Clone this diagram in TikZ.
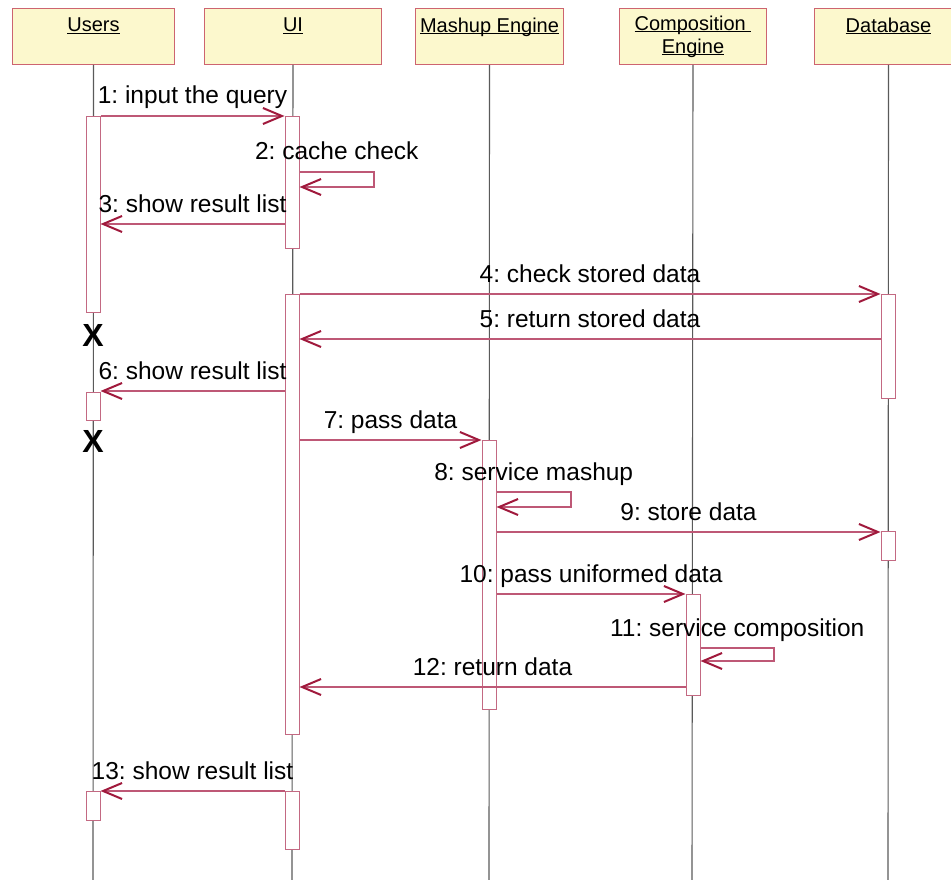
\documentclass[tikz,border=0pt]{standalone}
\usepackage{fontspec}
\setmainfont{Liberation Sans}
\usetikzlibrary{arrows.meta}
\frenchspacing

\definecolor{hdrfill}{RGB}{252,248,205}
\definecolor{hdrline}{RGB}{205,100,112}
\definecolor{barline}{RGB}{195,105,130}
\definecolor{msgline}{RGB}{190,88,118}
\definecolor{tipred}{RGB}{160,25,60}
\definecolor{lifegray}{RGB}{90,90,90}

% underlined participant name with a fixed rule position
\newcommand\ulname[1]{\setbox0\hbox{#1}\rlap{\rule[-2pt]{\wd0}{1pt}}\box0}

\tikzset{
  header/.style={draw=hdrline, fill=hdrfill, line width=1pt, anchor=north west,
    minimum height=56pt, inner sep=0pt, align=center,
    font=\fontsize{20}{23}\selectfont},
  lifeline/.style={draw=lifegray, line width=1.1pt},
  actbar/.style={draw=barline, fill=white, line width=1pt, anchor=north,
    minimum width=14pt, inner sep=0pt},
  msg/.style={draw=msgline, line width=1.2pt,
    -{Straight Barb[length=19pt,width=16pt,line width=2pt,color=tipred]}},
  msglabel/.style={anchor=base, yshift=12pt, inner sep=0pt,
    font=\fontsize{24.5}{28}\selectfont},
  destroy/.style={inner sep=0pt, font=\fontsize{32}{32}\selectfont\bfseries}
}

\begin{document}
\begin{tikzpicture}[x=1pt, y=-1pt]
\useasboundingbox (0,0) rectangle (951,880);
\clip (0,0) rectangle (951,880);

% participants
\node[header, minimum width=162pt] (hUsers) at (12,8) {\ulname{Users}\\ \mbox{}};
\node[header, minimum width=177pt] (hUI) at (204,8) {\ulname{UI}\\ \mbox{}};
\node[header, minimum width=148pt] (hMash) at (415,8) {\ulname{Mashup Engine}\\ \mbox{}};
\node[header, minimum width=147pt] (hComp) at (619,8) {\ulname{Composition\ }\\ \ulname{Engine}};
\node[header, minimum width=148pt] (hDB) at (814,8) {\ulname{Database}\\ \mbox{}};

% lifeline ends
\coordinate (eUsers) at (93,880);
\coordinate (eUI) at (292,880);
\coordinate (eMash) at (489,880);
\coordinate (eComp) at (692,880);
\coordinate (eDB) at (888,880);

\draw[lifeline] (hUsers.south) -- (eUsers);
\draw[lifeline] (hUI.south) -- (eUI);
\draw[lifeline] (hMash.south) -- (eMash);
\draw[lifeline] (hComp.south) -- (eComp);
\draw[lifeline] (hDB.south) -- (eDB);

% activation bars
\node[actbar, minimum height=196pt] (uA1) at (93,116) {};
\node[actbar, minimum height=28pt] (uA2) at (93,392) {};
\node[actbar, minimum height=29pt] (uA3) at (93,791) {};
\node[actbar, minimum height=132pt] (iB1) at (292,116) {};
\node[actbar, minimum height=440pt] (iB2) at (292,294) {};
\node[actbar, minimum height=58pt] (iB3) at (292,791) {};
\node[actbar, minimum height=269pt] (mC1) at (489,440) {};
\node[actbar, minimum height=101pt] (cD1) at (693,594) {};
\node[actbar, minimum height=104pt] (dE1) at (888,294) {};
\node[actbar, minimum height=29pt] (dE2) at (888,531) {};

% destruction marks
\node[destroy] (x1) at (93,335) {X};
\node[destroy] (x2) at (93,441) {X};

% message heights
\coordinate (y2a) at (0,172);  \coordinate (y2b) at (0,187);
\coordinate (y3) at (0,224);
\coordinate (y5) at (0,339);
\coordinate (y6) at (0,391);
\coordinate (y7) at (0,440);
\coordinate (y8a) at (0,492);  \coordinate (y8b) at (0,507);
\coordinate (y9) at (0,532);
\coordinate (y10) at (0,594);
\coordinate (y11a) at (0,648); \coordinate (y11b) at (0,661);
\coordinate (y12) at (0,687);

% loop turning points of the self calls
\coordinate (r2) at (374,0);
\coordinate (r8) at (571,0);
\coordinate (r11) at (774,0);

% messages
\draw[msg] (uA1.north east) -- node[msglabel]{1: input the query} (iB1.north west);

\draw[msg] (iB1.east |- y2a) -- (r2 |- y2a) -- (r2 |- y2b) -- (iB1.east |- y2b);
\path (iB1.east |- y2a) -- node[msglabel]{2: cache check} (r2 |- y2a);

\draw[msg] (iB1.west |- y3) -- node[msglabel]{3: show result list} (uA1.east |- y3);

\draw[msg] (iB2.north east) -- node[msglabel]{4: check stored data} (dE1.north west);

\draw[msg] (dE1.west |- y5) -- node[msglabel]{5: return stored data} (iB2.east |- y5);

\draw[msg] (iB2.west |- y6) -- node[msglabel]{6: show result list} (uA2.east |- y6);

\draw[msg] (iB2.east |- y7) -- node[msglabel]{7: pass data} (mC1.north west);

\draw[msg] (mC1.east |- y8a) -- (r8 |- y8a) -- (r8 |- y8b) -- (mC1.east |- y8b);
\path (mC1.east |- y8a) -- node[msglabel]{8: service mashup} (r8 |- y8a);

\draw[msg] (mC1.east |- y9) -- node[msglabel]{9: store data} (dE2.west |- y9);

\draw[msg] (mC1.east |- y10) -- node[msglabel]{10: pass uniformed data} (cD1.north west);

\draw[msg] (cD1.east |- y11a) -- (r11 |- y11a) -- (r11 |- y11b) -- (cD1.east |- y11b);
\path (cD1.east |- y11a) -- node[msglabel]{11: service composition} (r11 |- y11a);

\draw[msg] (cD1.west |- y12) -- node[msglabel]{12: return data} (iB2.east |- y12);

\draw[msg] (iB3.north west) -- node[msglabel]{13: show result list} (uA3.north east);

\end{tikzpicture}
\end{document}
